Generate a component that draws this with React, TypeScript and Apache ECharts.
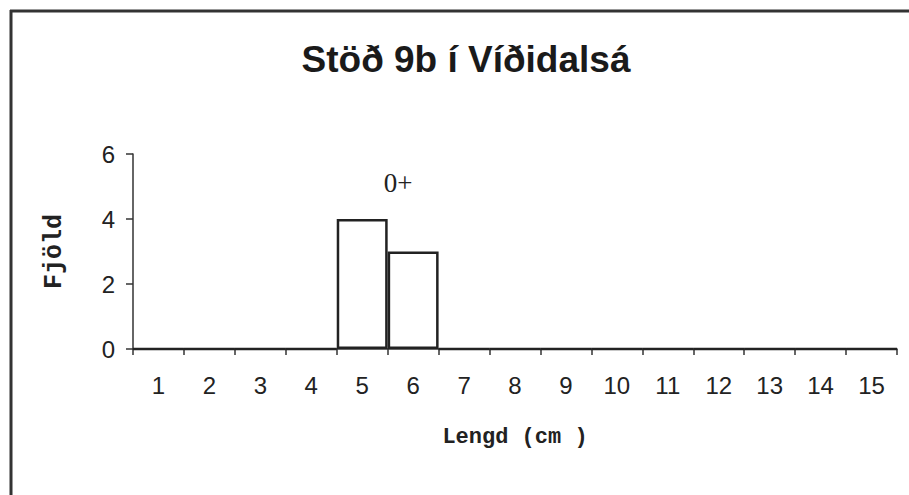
import React, { useEffect, useRef } from "react";
import * as echarts from "echarts";

const categories = ["1", "2", "3", "4", "5", "6", "7", "8", "9", "10", "11", "12", "13", "14", "15"];
const counts = [0, 0, 0, 0, 4, 3, 0, 0, 0, 0, 0, 0, 0, 0, 0];
const yTicks = { min: 0, max: 6, interval: 2 };
const titleText = "Stöð 9b í Víðidalsá";
const xName = "Lengd (cm )";
const yName = "Fjöld";
const ageLabel = "0+";

export default function App() {
  const ref = useRef<HTMLDivElement>(null);
  useEffect(() => {
    if (!ref.current) return;
    const chart = echarts.init(ref.current, null, { renderer: "svg" });
    const lineColor = "#333";
    chart.setOption({
      animation: false,
      backgroundColor: "#fff",
      title: {
        text: titleText,
        left: 461,
        textAlign: "center",
        top: 36,
        textStyle: {
          fontFamily: "Liberation Sans, Arial, sans-serif",
          fontWeight: "bold",
          fontSize: 37,
          color: "#1a1a1a",
        },
      },
      grid: { left: 133, top: 154, right: 12, bottom: 146 },
      xAxis: {
        type: "category",
        data: categories,
        boundaryGap: true,
        name: xName,
        nameLocation: "middle",
        nameGap: 77,
        nameTextStyle: {
          fontFamily: "Liberation Mono, Courier New, monospace",
          fontWeight: "bold",
          fontSize: 22,
          color: "#222",
        },
        axisLine: { lineStyle: { color: lineColor, width: 1.5 } },
        axisTick: { show: true, interval: 0, length: 6, lineStyle: { color: lineColor, width: 1.5 } },
        axisLabel: {
          interval: 0,
          margin: 24,
          fontFamily: "Liberation Sans, Arial, sans-serif",
          fontSize: 24,
          color: "#222",
        },
      },
      yAxis: {
        type: "value",
        min: yTicks.min,
        max: yTicks.max,
        interval: yTicks.interval,
        name: yName,
        nameLocation: "middle",
        nameRotate: 90,
        nameGap: 66,
        nameTextStyle: {
          fontFamily: "Liberation Mono, Courier New, monospace",
          fontWeight: "bold",
          fontSize: 25,
          color: "#222",
        },
        splitLine: { show: false },
        axisLine: { show: true, lineStyle: { color: lineColor, width: 1.5 } },
        axisTick: { show: true, length: 7, lineStyle: { color: lineColor, width: 1.5 } },
        axisLabel: {
          margin: 18,
          fontFamily: "Liberation Sans, Arial, sans-serif",
          fontSize: 24,
          color: "#222",
        },
      },
      series: [
        {
          type: "bar",
          data: counts,
          barCategoryGap: "0%",
          itemStyle: { color: "#fff", borderColor: "#222", borderWidth: 2.5 },
        },
      ],
      graphic: [
        {
          type: "line",
          shape: { x1: 11, y1: 10, x2: 11, y2: 495 },
          style: { stroke: "#333", lineWidth: 3 },
        },
        {
          type: "line",
          shape: { x1: 10, y1: 11, x2: 909, y2: 11 },
          style: { stroke: "#333", lineWidth: 3 },
        },
        {
          type: "text",
          x: 398,
          y: 183,
          style: {
            text: ageLabel,
            font: "27px 'Liberation Serif', 'Times New Roman', serif",
            fill: "#222",
            textAlign: "center",
            textVerticalAlign: "middle",
          },
        },
      ],
    });
    return () => chart.dispose();
  }, []);
  return (
    <div
      ref={ref}
      style={{ position: "fixed", left: 0, top: 0, width: 909, height: 495, background: "#fff" }}
    />
  );
}
